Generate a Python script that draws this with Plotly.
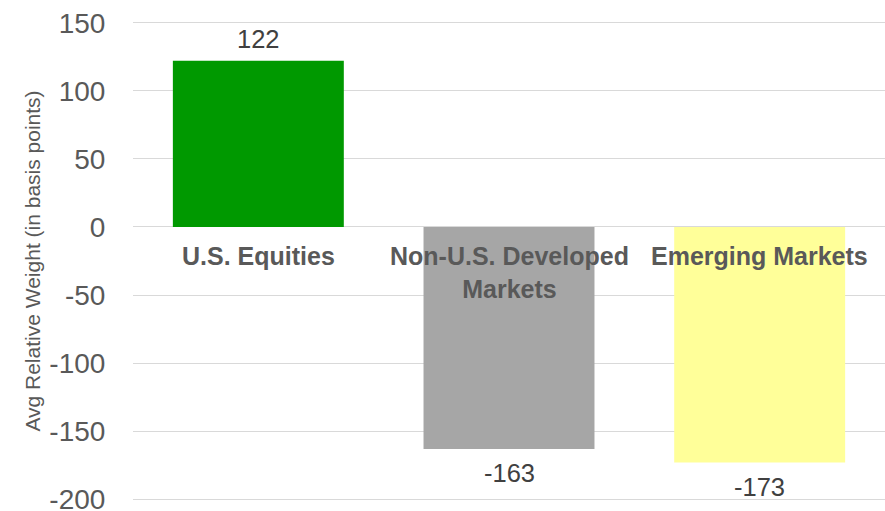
import plotly.graph_objects as go

categories = ["U.S. Equities", "Non-U.S. Developed Markets", "Emerging Markets"]
label_text = ["U.S. Equities", "Non-U.S. Developed<br>Markets", "Emerging Markets"]
values = [122, -163, -173]
colors = ["#009900", "#A6A6A6", "#FFFF99"]
tick_vals = [-200, -150, -100, -50, 0, 50, 100, 150]
tick_text = [str(v) for v in tick_vals]

FONT = "Liberation Sans, Arial, sans-serif"

fig = go.Figure()
fig.add_trace(go.Bar(
    x=categories, y=values,
    marker=dict(color=colors, line=dict(width=0)),
    width=0.682,
    hoverinfo="x+y",
))

for c, v in zip(categories, values):
    fig.add_annotation(x=c, y=v, text=str(v), showarrow=False,
                       yanchor="middle", yshift=22 if v >= 0 else -24,
                       font=dict(family=FONT, size=25.5, color="#404040"))

for c, t in zip(categories, label_text):
    fig.add_annotation(x=c, y=0, text="<b>" + t + "</b>", showarrow=False,
                       yanchor="top", yshift=-13,
                       font=dict(family=FONT, size=25, color="#595959"))

fig.update_layout(
    width=885, height=511,
    margin=dict(l=133, r=0, t=20, b=9, autoexpand=False),
    plot_bgcolor="white", paper_bgcolor="white",
    showlegend=False,
    font=dict(family=FONT, color="#595959"),
    xaxis=dict(showticklabels=False, showgrid=False, showline=False, zeroline=False),
    yaxis=dict(range=[-202, 152], tickvals=tick_vals, ticktext=tick_text, showgrid=True,
               gridcolor="#D9D9D9", automargin=False, ticklabeloverflow="allow",
               zeroline=True, zerolinecolor="#D9D9D9", zerolinewidth=1,
               tickfont=dict(size=28, color="#595959"),
               ticks="outside", ticklen=21, tickcolor="rgba(0,0,0,0)",
               title=dict(text="Avg Relative Weight (in basis points)", standoff=3,
                          font=dict(size=21, color="#595959"))),
)

fig.write_html(
    "out.html", config={"displayModeBar": False},
    post_script=("document.body.style.margin='0';"
                 "document.body.style.overflow='hidden';"
                 "document.documentElement.style.overflow='hidden';"))
